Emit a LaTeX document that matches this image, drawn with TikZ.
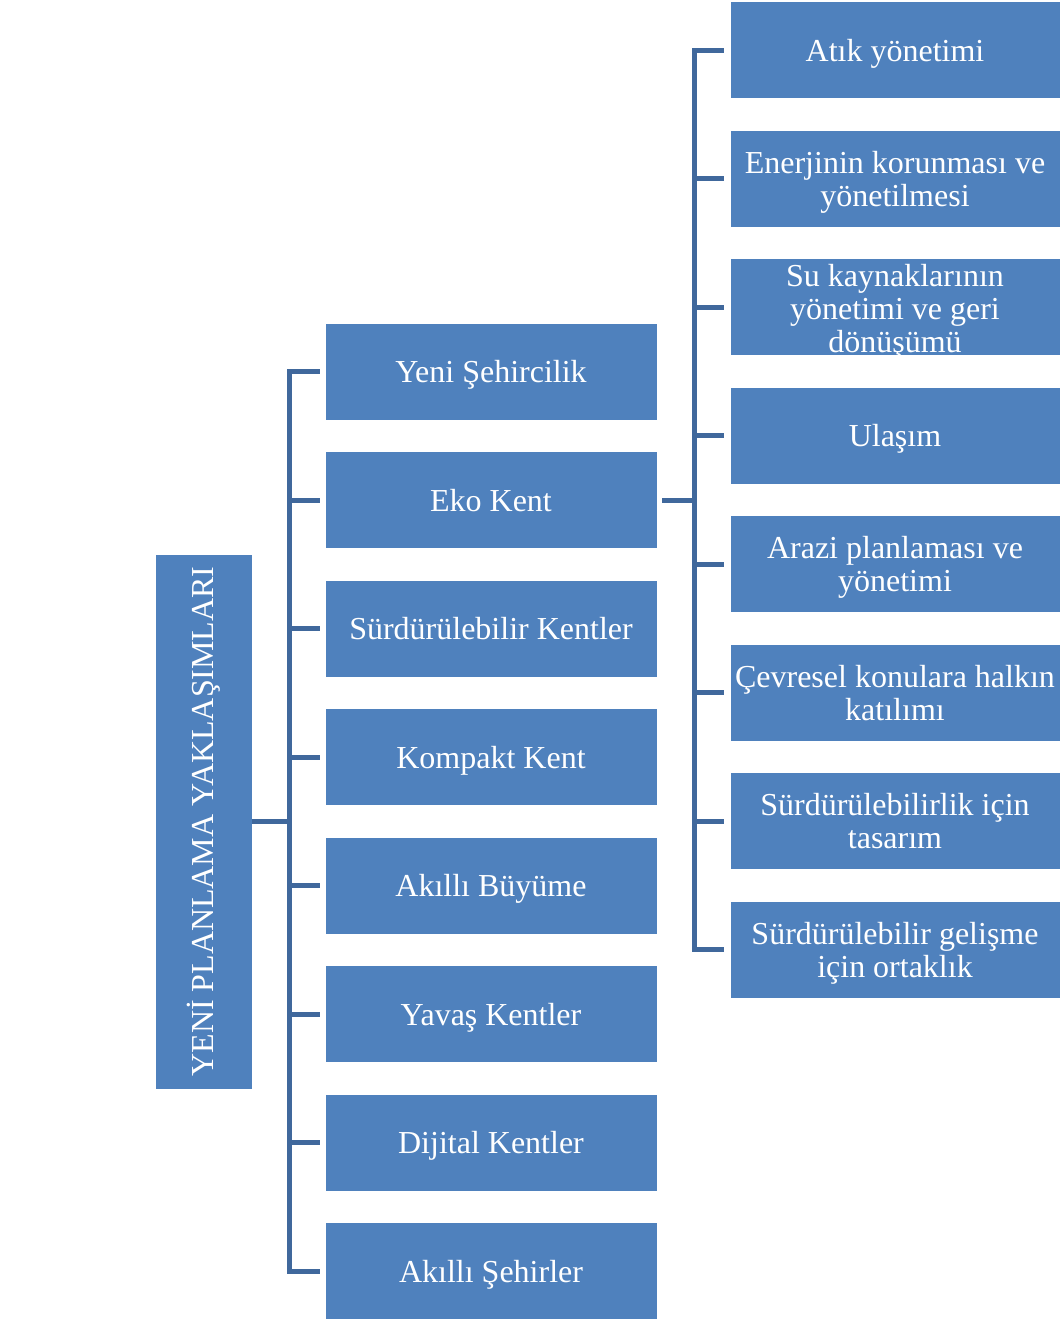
\documentclass[tikz,border=0pt]{standalone}
\usepackage{fontspec}
\setmainfont{Liberation Serif}
\usetikzlibrary{calc}
\definecolor{boxblue}{RGB}{79,129,189}
\definecolor{linkblue}{RGB}{64,104,156}
% fixed line ascent/descent so that every label sits alike in its box
\newcommand{\linestrut}{\rule[-7.5pt]{0pt}{37.5pt}}
\newcommand{\topstrut}{\rule{0pt}{30pt}}
\newcommand{\botstrut}{\rule[-7.5pt]{0pt}{7.5pt}}
\begin{document}
\begin{tikzpicture}[x=1pt,y=-1pt,
  box/.style={fill=boxblue, draw=white, line width=0.6pt, text=white,
    font=\fontsize{32}{33}\selectfont, align=center, inner sep=0pt},
  rootbox/.style={box, minimum width=97, minimum height=535},
  labelbox/.style={box, minimum height=97,
    execute at begin node=\linestrut, execute at end node=\linestrut},
  midbox/.style={labelbox, minimum width=332},
  rightbox/.style={labelbox, minimum width=330},
  multibox/.style={box, minimum height=97, minimum width=330},
  link/.style={draw=linkblue, line width=5pt}]
\useasboundingbox (0,0) rectangle (1060,1320);

% root
\node[rootbox] (root) at (203.5,821.5) {\rotatebox{90}{YENİ PLANLAMA YAKLAŞIMLARI}};

% planning approaches
\node[midbox] (m1) at (491,371.5) {Yeni Şehircilik};
\node[midbox] (m2) at (491,500) {Eko Kent};
\node[midbox] (m3) at (491,628.5) {Sürdürülebilir Kentler};
\node[midbox] (m4) at (491,757) {Kompakt Kent};
\node[midbox] (m5) at (491,885.5) {Akıllı Büyüme};
\node[midbox] (m6) at (491,1014) {Yavaş Kentler};
\node[midbox] (m7) at (491,1142.5) {Dijital Kentler};
\node[midbox] (m8) at (491,1271) {Akıllı Şehirler};

% eco city components
\node[rightbox] (r1) at (895,50) {Atık yönetimi};
\node[multibox] (r2) at (895,178.5) {\topstrut Enerjinin korunması ve\\yönetilmesi\botstrut};
\node[multibox] (r3) at (895,307) {\rule{0pt}{27pt}Su kaynaklarının\\yönetimi ve geri\\\smash{dönüşümü}\rule[-3pt]{0pt}{3pt}};
\node[rightbox] (r4) at (895,435.5) {Ulaşım};
\node[multibox] (r5) at (895,564) {\topstrut Arazi planlaması ve\\yönetimi\botstrut};
\node[multibox] (r6) at (895,692.5) {\topstrut Çevresel konulara halkın\\katılımı\botstrut};
\node[multibox] (r7) at (895,821) {\topstrut Sürdürülebilirlik için\\tasarım\botstrut};
\node[multibox] (r8) at (895,949.5) {\topstrut Sürdürülebilir gelişme\\için ortaklık\botstrut};

% connectors
\coordinate (busL) at (289,821.5);
\foreach \n in {m1,m2,m3,m4,m5,m6,m7,m8}
  \draw[link] (root.east) -- (busL) |- ($(\n.west)+(-5,0)$);

\coordinate (busR) at (694,500);
\foreach \n in {r1,r2,r3,r4,r5,r6,r7,r8}
  \draw[link] ($(m2.east)+(5,0)$) -- (busR) |- ($(\n.west)+(-6,0)$);
\end{tikzpicture}
\end{document}
